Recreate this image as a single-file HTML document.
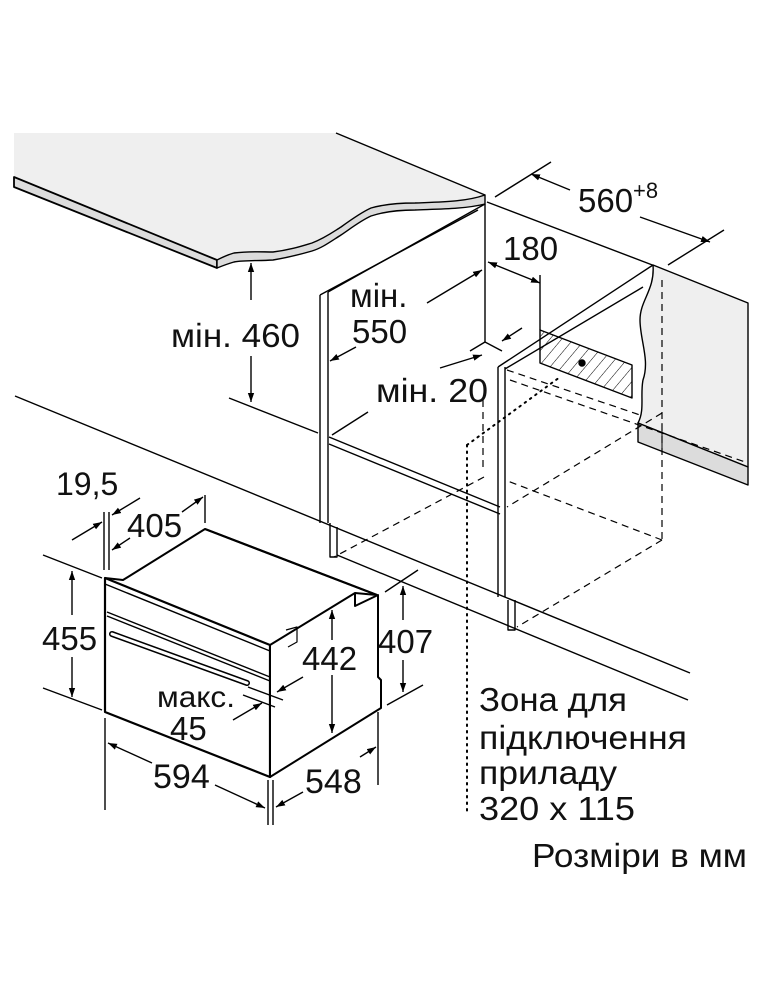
<!DOCTYPE html>
<html><head><meta charset="utf-8"><style>
html,body{margin:0;padding:0;background:#fff;}
svg{display:block;}
text{font-family:"Liberation Sans",sans-serif;fill:#111;}
</style></head><body>
<svg width="760" height="1000" viewBox="0 0 760 1000" xmlns="http://www.w3.org/2000/svg">
<defs>
<marker id="a" viewBox="0 0 10 10" refX="10" refY="5" markerWidth="9" markerHeight="9" orient="auto-start-reverse" markerUnits="userSpaceOnUse"><path d="M0,1.5 L10,5 L0,8.5 z" fill="#000"/></marker>
<pattern id="h" width="9" height="9" patternUnits="userSpaceOnUse" patternTransform="rotate(40)"><line x1="0" y1="0" x2="0" y2="9" stroke="#000" stroke-width="1"/></pattern>
</defs>
<g stroke="#000" stroke-width="1.4" fill="none" stroke-linejoin="round">
<!-- countertop -->
<path d="M14,133 L336,133 L485,195 C470,200 440,202 415,203 C395,204 380,205 371,208 C355,215 348,222 341,227 C330,236 320,241 312,243 C295,248 280,251 273,252 C255,252 240,251 234,253 L217,260 L14,177 Z" fill="#efefef" stroke="none"/>
<path d="M14,177 L217,260 L217,268 L14,187 Z" fill="#dcdcdc" stroke-width="1.8"/>
<path d="M217,260 C225,256 230,254 234,253 C250,251 262,252 273,252 C290,250 302,246 312,243 C325,238 333,232 341,227 C352,219 362,212 371,208 C385,204 400,203 415,203 C440,202 465,202 485,195 L485,204 C465,209 440,209 415,210 C398,210 383,212 371,216 C360,221 350,229 341,235 C330,242 322,248 312,251 C298,255 285,258 273,260 C258,261 245,260 234,262 C227,264 222,266 217,268 Z" fill="#dcdcdc"/>
<line x1="336" y1="133" x2="485" y2="195"/>
<line x1="487" y1="202" x2="655" y2="266"/>
<!-- right counter -->
<path d="M653,265 L748,303 L748,467 L638,423 C645,410 640,395 643,380 C650,360 640,340 640,320 C640,300 655,290 653,265 Z" fill="#efefef"/>
<path d="M638,423 L748,467 L748,485 L638,442 Z" fill="#dcdcdc"/>
<line x1="662" y1="423" x2="662" y2="452" stroke-width="1"/>
<!-- left cabinet panel -->
<line x1="320" y1="295" x2="320" y2="523"/>
<line x1="328" y1="292" x2="328" y2="523"/>
<line x1="320" y1="295" x2="478" y2="210"/>
<line x1="328" y1="292" x2="485" y2="204"/>
<path d="M330,523 L330,557 L337,557 L337,527"/>
<line x1="485" y1="204" x2="485" y2="342"/>
<line x1="329" y1="437" x2="500" y2="507"/>
<line x1="329" y1="444" x2="500" y2="514"/>
<line x1="485" y1="342" x2="502" y2="351"/>
<line x1="485" y1="342" x2="470" y2="351"/>
<!-- right cabinet panel -->
<line x1="498" y1="367" x2="498" y2="597"/>
<line x1="505" y1="367" x2="505" y2="597"/>
<line x1="498" y1="367" x2="653" y2="265"/>
<line x1="505" y1="369" x2="643" y2="287"/>
<path d="M508,600 L508,630 L515,630 L515,600"/>
<line x1="15" y1="396" x2="690" y2="673"/>
<line x1="337" y1="555" x2="688" y2="700"/>
<line x1="229" y1="398" x2="318" y2="433"/>
<path d="M540,330 L632,365 L632,398 L540,363 Z" fill="url(#h)"/>
<circle cx="582" cy="363" r="3" fill="#000"/>
<line x1="540" y1="275" x2="540" y2="330"/>
<g stroke-dasharray="7,5" stroke-width="1.2">
<line x1="662" y1="280" x2="662" y2="540"/>
<line x1="507" y1="370" x2="640" y2="415"/>
<line x1="510" y1="380" x2="748" y2="463"/>
<line x1="662" y1="413" x2="507" y2="507"/>
<line x1="662" y1="540" x2="505" y2="480"/>
<line x1="662" y1="540" x2="517" y2="627"/>
<line x1="484" y1="477" x2="334" y2="557"/>
<line x1="483" y1="400" x2="483" y2="470"/>
</g>
<g stroke-dasharray="1.5,5" stroke-width="2" stroke-linecap="round">
<line x1="467" y1="445" x2="467" y2="815"/>
<line x1="467" y1="445" x2="560" y2="377"/>
</g>
<!-- oven -->
<path d="M105,578 L270,645 L270,777 L105,712 Z" fill="#fff" stroke-width="2.2"/>
<path d="M105,578 L123,580 L205,529 L377,595 L355,593 L355,606 L378,595 L378,677 L381,680 L381,708 L270,777 L270,645 L355,593" fill="#fff" stroke-width="2"/>
<line x1="205" y1="529" x2="377" y2="595" stroke-width="2.2"/>
<line x1="105" y1="584" x2="270" y2="651"/>
<line x1="107" y1="612" x2="270" y2="677"/>
<line x1="107" y1="616" x2="270" y2="681"/>
<line x1="112" y1="634" x2="247" y2="683" stroke-width="6" stroke-linecap="round"/>
<line x1="112" y1="634" x2="247" y2="683" stroke-width="3" stroke="#fff" stroke-linecap="round"/>
<path d="M286,630 L297,627 L297,642 L288,647" stroke-width="1.2"/>
<line x1="495" y1="197" x2="551" y2="162"/>
<line x1="668" y1="265" x2="724" y2="230"/>
<line x1="570" y1="190" x2="531" y2="174" marker-end="url(#a)"/>
<line x1="640" y1="217" x2="710" y2="242" marker-end="url(#a)"/>
<line x1="488" y1="262" x2="540" y2="283" marker-start="url(#a)" marker-end="url(#a)"/>
<line x1="427" y1="303" x2="482" y2="270" marker-end="url(#a)"/>
<line x1="356" y1="347" x2="330" y2="361" marker-end="url(#a)"/>
<line x1="522" y1="328" x2="502" y2="341" marker-end="url(#a)"/>
<line x1="440" y1="368" x2="482" y2="355" marker-end="url(#a)"/>
<line x1="368" y1="412" x2="332" y2="435"/>
<line x1="251" y1="300" x2="251" y2="263" marker-end="url(#a)"/>
<line x1="251" y1="356" x2="251" y2="402" marker-end="url(#a)"/>
<line x1="43" y1="555" x2="102" y2="578"/>
<line x1="43" y1="688" x2="102" y2="710"/>
<line x1="72" y1="615" x2="72" y2="571" marker-end="url(#a)"/>
<line x1="72" y1="657" x2="72" y2="697" marker-end="url(#a)"/>
<line x1="104" y1="512" x2="104" y2="570"/>
<line x1="109" y1="512" x2="109" y2="570"/>
<line x1="205" y1="495" x2="205" y2="523"/>
<line x1="72" y1="540" x2="102" y2="522" marker-end="url(#a)"/>
<line x1="140" y1="498" x2="112" y2="515" marker-end="url(#a)"/>
<line x1="130" y1="538" x2="112" y2="550" marker-end="url(#a)"/>
<line x1="182" y1="512" x2="203" y2="497" marker-end="url(#a)"/>
<line x1="332" y1="640" x2="332" y2="610" marker-end="url(#a)"/>
<line x1="332" y1="675" x2="332" y2="733" marker-end="url(#a)"/>
<line x1="385" y1="592" x2="418" y2="570"/>
<line x1="387" y1="705" x2="423" y2="685"/>
<line x1="403" y1="620" x2="403" y2="586" marker-end="url(#a)"/>
<line x1="403" y1="660" x2="403" y2="692" marker-end="url(#a)"/>
<line x1="248" y1="687" x2="283" y2="700"/>
<line x1="243" y1="695" x2="275" y2="707"/>
<line x1="303" y1="677" x2="277" y2="692" marker-end="url(#a)"/>
<line x1="233" y1="720" x2="262" y2="703" marker-end="url(#a)"/>
<line x1="105" y1="718" x2="105" y2="810"/>
<line x1="268" y1="780" x2="268" y2="825"/>
<line x1="273" y1="780" x2="273" y2="825"/>
<line x1="152" y1="763" x2="108" y2="743" marker-end="url(#a)"/>
<line x1="215" y1="785" x2="265" y2="808" marker-end="url(#a)"/>
<line x1="378" y1="712" x2="378" y2="785"/>
<line x1="303" y1="792" x2="276" y2="807" marker-end="url(#a)"/>
<line x1="360" y1="757" x2="376" y2="747" marker-end="url(#a)"/>
</g>
<g font-size="33">
<text x="578" y="212">560</text><text x="633" y="198" font-size="22">+8</text>
<text x="503" y="260">180</text>
<text x="350" y="307">мін.</text>
<text x="352" y="343">550</text>
<text x="171" y="347" textLength="129" lengthAdjust="spacingAndGlyphs">мін. 460</text>
<text x="376" y="402" textLength="112" lengthAdjust="spacingAndGlyphs">мін. 20</text>
<text x="56" y="495" font-size="32">19,5</text>
<text x="127" y="537">405</text>
<text x="42" y="650">455</text>
<text x="302" y="670">442</text>
<text x="378" y="653">407</text>
<text x="157" y="707" font-size="30" textLength="78" lengthAdjust="spacingAndGlyphs">макс.</text>
<text x="170" y="740">45</text>
<text x="153" y="788" font-size="34">594</text>
<text x="305" y="793" font-size="34">548</text>
<text x="479" y="711" textLength="148" lengthAdjust="spacingAndGlyphs">Зона для</text>
<text x="479" y="749" textLength="208" lengthAdjust="spacingAndGlyphs">підключення</text>
<text x="479" y="784" textLength="138" lengthAdjust="spacingAndGlyphs">приладу</text>
<text x="479" y="820" textLength="156" lengthAdjust="spacingAndGlyphs">320 x 115</text>
<text x="532" y="867" textLength="215" lengthAdjust="spacingAndGlyphs">Розміри в мм</text>
</g>
</svg>
</body></html>
